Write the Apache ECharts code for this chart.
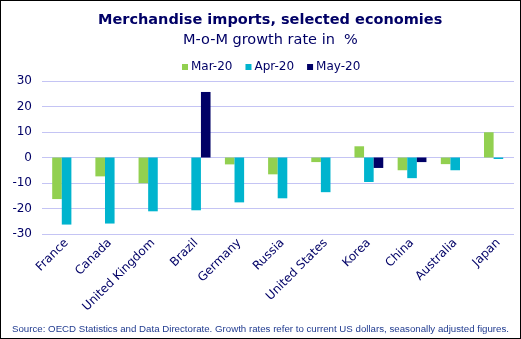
<!DOCTYPE html>
<html><head><meta charset="utf-8">
<script src="https://cdn.jsdelivr.net/npm/echarts@6/dist/echarts.min.js"></script>
<style>html,body{margin:0;padding:0;background:#fff}#c{width:519px;height:337px;border:1px solid #000}</style>
</head><body><div id="c"></div>
<script>
const categories = ["France","Canada","United Kingdom","Brazil","Germany","Russia","United States","Korea","China","Australia","Japan"];
const seriesNames = ["Mar-20","Apr-20","May-20"];
const mar20 = [-16.3,-7.4,-10.1,null,-2.7,-6.6,-1.8,4.4,-5.0,-2.6,9.9];
const apr20 = [-26.3,-25.9,-21.1,-20.7,-17.6,-16.0,-13.6,-9.6,-8.1,-5.0,-0.6];
const may20 = [null,null,null,25.7,null,null,null,-4.1,-1.8,null,null];
const yTicks = {min:-30,max:30,interval:10};
const colors = ["#92D050","#00B4CE","#000066"];
const txt = "#000066";
const font = "DejaVu Sans";
const chart = echarts.init(document.getElementById('c'));
chart.setOption({
  animation:false,
  textStyle:{fontFamily:font},
  title:[
    {text:"Merchandise imports, selected economies",left:92,top:7,textStyle:{fontFamily:font,fontSize:14.5,fontWeight:"bold",color:txt}},
    {text:"M-o-M growth rate in  %",left:177,top:27,textStyle:{fontFamily:font,fontSize:14.5,fontWeight:"normal",color:txt}},
    {text:"Source: OECD Statistics and Data Directorate. Growth rates refer to current US dollars, seasonally adjusted figures.",left:"center",top:318,textStyle:{fontFamily:"Liberation Sans",fontSize:9.7,fontWeight:"normal",color:"#1F3A8F"}}
  ],
  legend:{top:55,left:176,itemWidth:6,itemHeight:6,itemGap:13,icon:"rect",textStyle:{fontFamily:font,fontSize:12,color:txt,padding:[0,0,0,-2]},data:seriesNames},
  grid:[
    {left:44,width:478,top:80,height:153,containLabel:false},
    {left:41,right:6,top:80,height:153,containLabel:false}
  ],
  xAxis:[
    {type:"category",gridIndex:0,data:categories,axisLine:{show:false},axisTick:{show:false},
      axisLabel:{rotate:45,interval:0,fontFamily:font,fontSize:12,color:txt,margin:7}},
    {type:"category",gridIndex:1,data:categories,show:false}
  ],
  yAxis:[
    {type:"value",gridIndex:0,min:yTicks.min,max:yTicks.max,interval:yTicks.interval,show:false,splitLine:{show:false}},
    {type:"value",gridIndex:1,min:yTicks.min,max:yTicks.max,interval:yTicks.interval,
      axisLabel:{fontFamily:font,fontSize:12,color:txt,margin:10},
      splitLine:{lineStyle:{color:"#C4C4F4",width:1}},axisLine:{show:false},axisTick:{show:false}}
  ],
  series:[
    {name:seriesNames[0],type:"bar",data:mar20,itemStyle:{color:colors[0]},barWidth:9.6,barGap:"0%",z:3},
    {name:seriesNames[1],type:"bar",data:apr20,itemStyle:{color:colors[1]},barWidth:9.6,barGap:"0%",z:3},
    {name:seriesNames[2],type:"bar",data:may20,itemStyle:{color:colors[2]},barWidth:9.6,barGap:"0%",z:3}
  ]
});
</script></body></html>
